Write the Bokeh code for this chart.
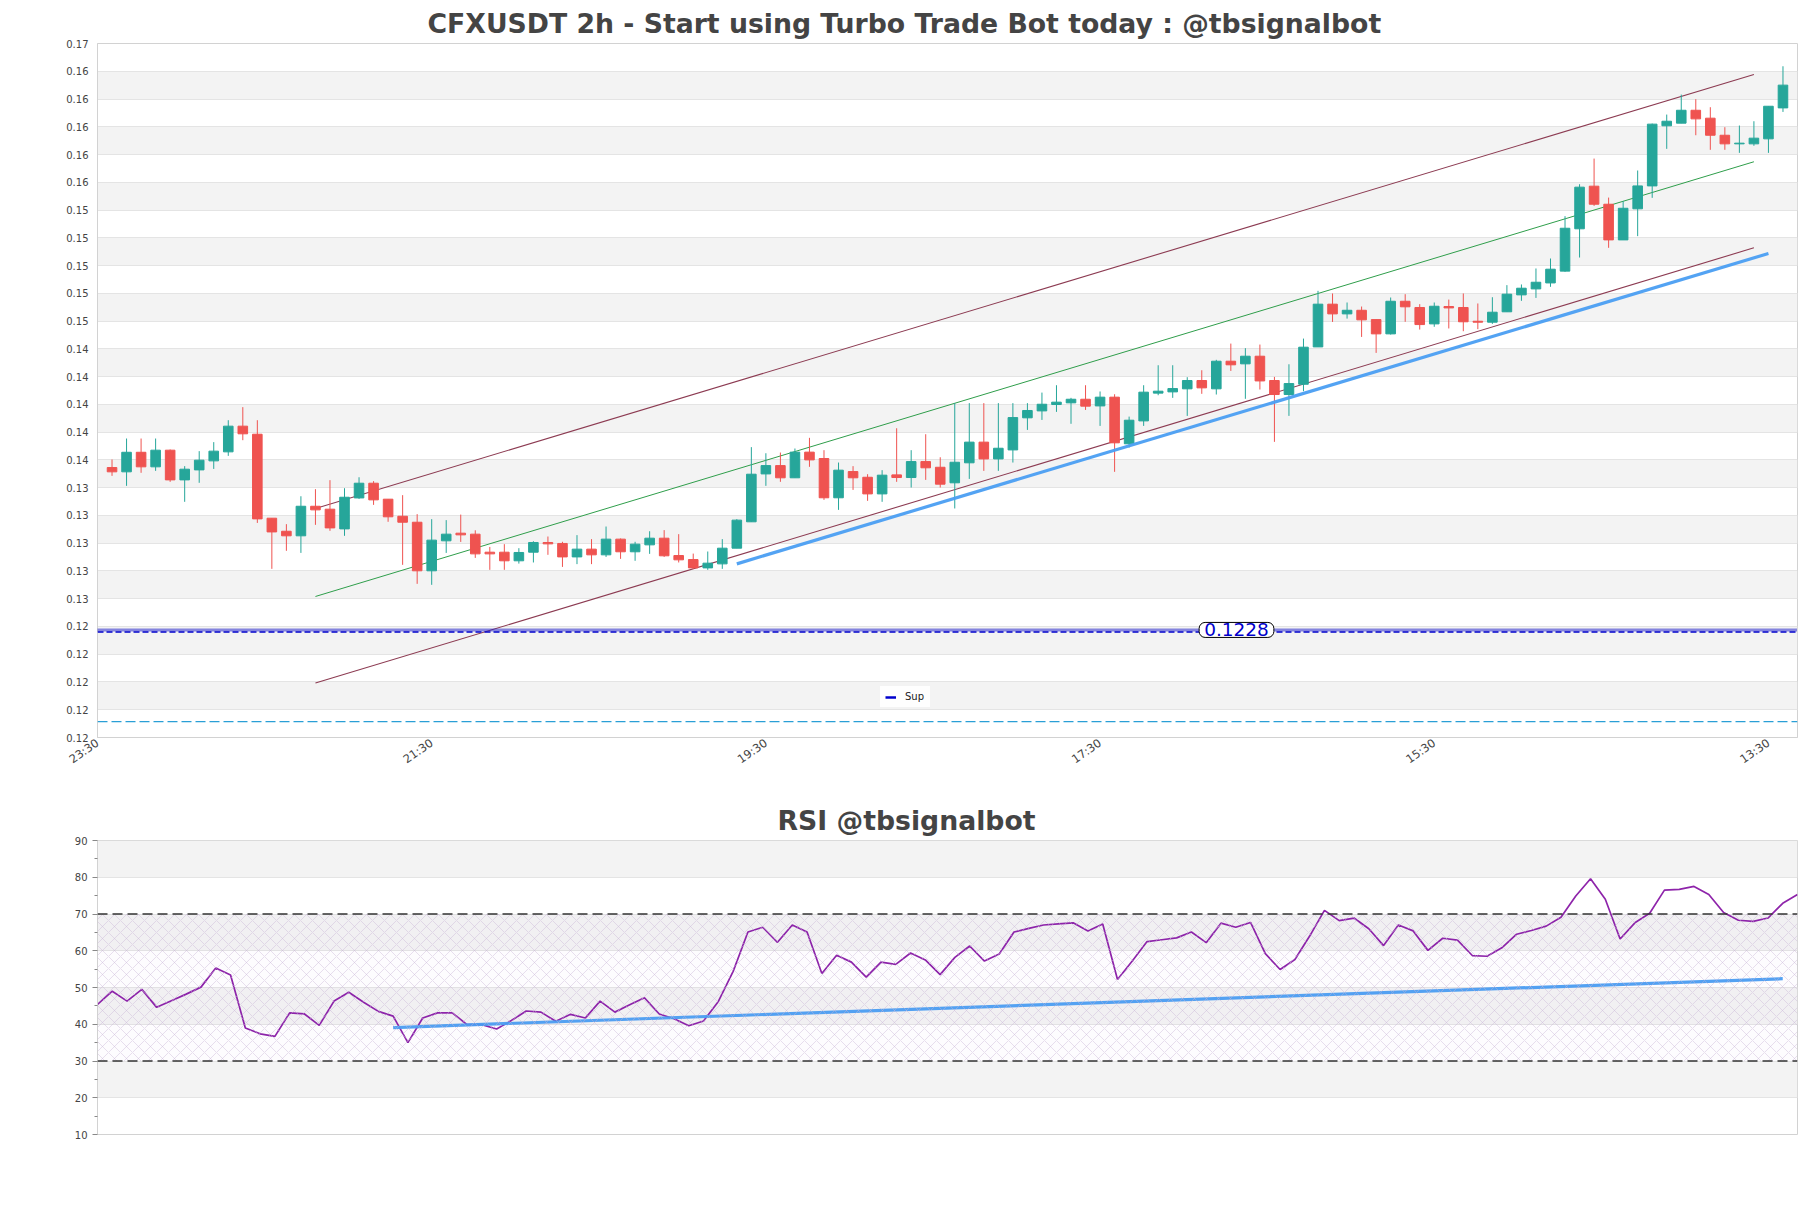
import math
from bokeh.plotting import figure
from bokeh.models import (Range1d, FixedTicker, PrintfTickFormatter, Span, Label,
                          Legend, LegendItem, BoxAnnotation, ColumnDataSource, Title)
from bokeh.layouts import column
from bokeh.embed import file_html
from bokeh.resources import INLINE

# ---------------- data ----------------
title_main = "CFXUSDT 2h - Start using Turbo Trade Bot today : @tbsignalbot"
title_rsi = "RSI @tbsignalbot"

opens = [
    .13465, .13434, .13575, .13470, .13590, .13376, .13448, .13513, .13578, .13763,
    .13705, .13100, .13006, .12973, .13186, .13165, .13023, .13246, .13352, .13237,
    .13114, .13071, .12721, .12937, .12992, .12985, .12855, .12855, .12793, .12855,
    .12925, .12918, .12821, .12877, .12836, .12949, .12858, .12908, .12956, .12831,
    .12802, .12742, .12771, .12884, .13074, .13419, .13479, .13391, .13576, .13530,
    .13247, .13436, .13395, .13275, .13412, .13393, .13508, .13467, .13355, .13499,
    .13648, .13527, .13592, .13823, .13873, .13919, .13931, .13957, .13909, .13972,
    .13636, .13801, .14001, .14010, .14032, .14092, .14032, .14231, .14212, .14267,
    .14092, .13991, .14065, .14334, .14642, .14572, .14598, .14531, .14428, .14663,
    .14618, .14500, .14625, .14618, .14519, .14512, .14587, .14709, .14752, .14795,
    .14880, .15185, .15492, .15362, .15105, .15329, .15494, .15927, .15946, .16039,
    .15982, .15859, .15797, .15797, .15833, .16056]
highs = [
    .13523, .13674, .13674, .13674, .13595, .13475, .13583, .13648, .13806, .13900,
    .13806, .13100, .13057, .13258, .13309, .13374, .13316, .13395, .13367, .13237,
    .13266, .13129, .13093, .13086, .13126, .13013, .12893, .12913, .12884, .12934,
    .12968, .12930, .12978, .12949, .13040, .12954, .12930, .13006, .13014, .12985,
    .12845, .12860, .12949, .13093, .13612, .13568, .13573, .13602, .13679, .13590,
    .13501, .13475, .13417, .13446, .13748, .13590, .13705, .13539, .13929, .13929,
    .13929, .13929, .13929, .13929, .14005, .14058, .13967, .14058, .14013, .13993,
    .13832, .14058, .14202, .14202, .14116, .14166, .14241, .14358, .14325, .14351,
    .14118, .14209, .14394, .14738, .14719, .14654, .14625, .14531, .14690, .14714,
    .14642, .14654, .14675, .14719, .14647, .14692, .14779, .14784, .14899, .14971,
    .15276, .15506, .15691, .15410, .15384, .15605, .15943, .16008, .16152, .16119,
    .16061, .15917, .15929, .15960, .16068, .16356]
lows = [
    .13405, .13333, .13427, .13441, .13362, .13218, .13355, .13455, .13549, .13662,
    .13066, .12735, .12865, .12850, .13052, .13009, .12973, .13239, .13196, .13074,
    .12764, .12627, .12620, .12850, .12929, .12814, .12728, .12728, .12773, .12781,
    .12836, .12749, .12769, .12769, .12821, .12807, .12793, .12843, .12821, .12781,
    .12735, .12728, .12735, .12884, .13074, .13333, .13362, .13391, .13470, .13232,
    .13160, .13304, .13225, .13218, .13362, .13321, .13376, .13321, .13170, .13383,
    .13441, .13441, .13501, .13736, .13808, .13866, .13780, .13880, .13765, .13434,
    .13609, .13765, .13986, .13967, .13837, .13996, .13991, .14161, .13960, .14027,
    .13650, .13837, .14015, .14334, .14514, .14538, .14406, .14291, .14423, .14515,
    .14459, .14479, .14467, .14447, .14462, .14500, .14587, .14666, .14687, .14767,
    .14875, .14978, .15350, .15048, .15105, .15132, .15408, .15761, .15946, .15859,
    .15754, .15754, .15732, .15783, .15732, .16027]
closes = [
    .13434, .13575, .13470, .13590, .13376, .13453, .13518, .13583, .13763, .13708,
    .13095, .13001, .12973, .13186, .13160, .13030, .13251, .13352, .13232, .13110,
    .13071, .12721, .12942, .12985, .12980, .12843, .12843, .12793, .12853, .12925,
    .12915, .12821, .12877, .12836, .12949, .12858, .12913, .12956, .12829, .12800,
    .12742, .12776, .12884, .13086, .13417, .13479, .13391, .13576, .13520, .13247,
    .13446, .13391, .13275, .13410, .13393, .13508, .13463, .13345, .13503, .13648,
    .13527, .13604, .13825, .13876, .13921, .13936, .13957, .13907, .13972, .13643,
    .13806, .14008, .14015, .14034, .14092, .14039, .14231, .14205, .14267, .14089,
    .13991, .14070, .14332, .14642, .14572, .14598, .14529, .14428, .14663, .14623,
    .14495, .14627, .14615, .14515, .14512, .14584, .14714, .14757, .14800, .14894,
    .15189, .15485, .15362, .15105, .15333, .15494, .15939, .15960, .16039, .15977,
    .15859, .15797, .15802, .15838, .16068, .16220]

rsi = [
    45.4, 49.0, 46.3, 49.5, 44.6, 46.4, 48.2, 50.1, 55.3, 53.4,
    39.0, 37.4, 36.7, 43.1, 42.8, 39.7, 46.3, 48.7, 46.0, 43.5,
    42.2, 35.0, 41.7, 43.1, 43.1, 39.9, 39.9, 38.7, 41.0, 43.6,
    43.3, 40.8, 42.7, 41.7, 46.3, 43.3, 45.3, 47.2, 42.8, 41.5,
    39.6, 40.9, 46.2, 54.4, 65.1, 66.4, 62.3, 67.0, 65.1, 53.8,
    58.8, 56.9, 52.8, 56.9, 56.3, 59.4, 57.5, 53.5, 58.2, 61.3,
    57.2, 59.1, 65.1, 66.1, 67.0, 67.3, 67.6, 65.4, 67.3, 52.2,
    57.2, 62.5, 63.0, 63.5, 65.1, 62.2, 67.5, 66.4, 67.7, 59.2,
    54.9, 57.6, 64.0, 71.0, 68.2, 68.9, 66.0, 61.4, 67.0, 65.4,
    60.1, 63.4, 62.9, 58.7, 58.5, 60.8, 64.5, 65.5, 66.7, 69.1,
    74.9, 79.6, 74.0, 63.2, 67.6, 70.2, 76.5, 76.7, 77.5, 75.3,
    70.4, 68.3, 68.0, 68.9, 72.9, 75.3]

# x tick labels (candle index -> time)
xtick_idx = [-1, 22, 45, 68, 91, 114]
xtick_labels = ["23:30", "21:30", "19:30", "17:30", "15:30", "13:30"]

# price axis ticks
y_ticks = [round(0.1152 + 0.002 * k, 4) for k in range(26)]

# channel lines
ch_x = [14, 113]
ch_upper = [0.13170, 0.16297]
ch_mid = [0.12536, 0.15668]
ch_lower = [0.11912, 0.15048]
# support trend line
sup_x = [43, 114]
sup_y = [0.12771, 0.15007]

# horizontal levels
sup_level = 0.1228
sup_zone = 0.12295
low_level = 0.11635
sup_text = "0.1228"

# RSI
rsi_ticks = [10, 20, 30, 40, 50, 60, 70, 80, 90]
rsi_minor = [15, 25, 35, 45, 55, 65, 75, 85]
rsi_hi, rsi_lo = 70, 30
rsi_trend_x = [20, 114]
rsi_trend_y = [39.1, 52.4]

# ---------------- styling ----------------
GREEN = "#26a69a"
RED = "#ef5350"
FONT = "DejaVu Sans"
W = 1803
GRID = "#e4e4e4"
BAND = "#f3f3f3"
AXIS = "#d2d2d2"
TXT = "#444444"
TITLE_PX = 26.7

idx = list(range(len(opens)))
up = [c >= o for o, c in zip(opens, closes)]
src = ColumnDataSource(dict(
    x=idx, h=highs, l=lows,
    top=[max(o, c) for o, c in zip(opens, closes)],
    bot=[min(o, c) for o, c in zip(opens, closes)],
    color=[GREEN if u else RED for u in up],
))


def centered_title(text, em_width, frame_left, page_center):
    # left-aligned title positioned so that it is centred on the page
    width = em_width * TITLE_PX
    return Title(text=text, align="left", offset=page_center - frame_left - width / 2,
                 text_font=FONT, text_font_size=f"{TITLE_PX}px", text_font_style="bold",
                 text_color=TXT, standoff=10)


p = figure(width=W, height=788, x_range=Range1d(-1, len(opens)),
           y_range=Range1d(y_ticks[0], y_ticks[-1]),
           output_backend="svg", toolbar_location=None,
           min_border_left=97, min_border_right=6, min_border_top=43, min_border_bottom=51)
p.title = centered_title(title_main, 35.84, 97, 905.5)
p.background_fill_color = "white"
p.border_fill_color = "white"
p.outline_line_color = AXIS

yt = FixedTicker(ticks=y_ticks, minor_ticks=[])
p.yaxis.ticker = yt
p.ygrid.ticker = yt
p.yaxis.formatter = PrintfTickFormatter(format="%.2f")
p.ygrid.grid_line_color = GRID
p.ygrid.band_fill_color = BAND
p.ygrid.band_fill_alpha = 1.0
p.xgrid.visible = False
p.yaxis.major_tick_out = 0
p.yaxis.major_tick_in = 0
p.yaxis.minor_tick_line_color = None
p.yaxis.major_label_standoff = 9
p.yaxis.axis_line_color = AXIS
p.yaxis.major_label_text_font_size = "10px"
p.yaxis.major_label_text_color = TXT
p.yaxis.major_label_text_font = FONT

p.xaxis.ticker = FixedTicker(ticks=xtick_idx, minor_ticks=[])
p.xaxis.major_label_overrides = {t: s for t, s in zip(xtick_idx, xtick_labels)}
p.xaxis.major_label_orientation = math.radians(35)
p.xaxis.major_tick_out = 0
p.xaxis.major_tick_in = 0
p.xaxis.minor_tick_line_color = None
p.xaxis.major_label_standoff = 4
p.xaxis.axis_line_color = AXIS
p.xaxis.major_label_text_font_size = "11.5px"
p.xaxis.major_label_text_color = TXT
p.xaxis.major_label_text_font = FONT

# levels
p.add_layout(Span(location=low_level, dimension="width", line_color="#2a9fd6",
                  line_width=1.3, line_dash="10 4"))
p.add_layout(Span(location=sup_zone, dimension="width", line_color="#1414c8",
                  line_width=3.0, line_dash="1 1"))
p.add_layout(Span(location=sup_level, dimension="width", line_color="#0000cc",
                  line_width=1.4, line_dash="6 3"))

# channel + trend
p.line(ch_x, ch_upper, line_color="#8c3b52", line_width=1.1)
p.line(ch_x, ch_mid, line_color="#2f9e4b", line_width=1.0)
p.line(ch_x, ch_lower, line_color="#8c3b52", line_width=1.1)

# candles
p.segment(x0="x", y0="h", x1="x", y1="l", line_color="color", line_width=1, source=src)
p.vbar(x="x", width=0.66, top="top", bottom="bot", fill_color="color",
       line_color="color", line_width=1, source=src)

p.line(sup_x, sup_y, line_color="#4a9ef2", line_width=3.2, line_alpha=0.95)

p.add_layout(Label(x=1139, y=sup_zone, x_units="screen", text=sup_text,
                   text_color="#0000cc", text_font=FONT, text_font_size="18.5px",
                   text_align="center", text_baseline="middle",
                   background_fill_color="white", border_line_color="black",
                   border_line_width=1, border_radius=6, padding=(5, 1)))

# legend proxy: a short line kept outside the visible x-range
legend_x = [x - 10 for x in (0, 1)]
r_sup = p.line(x=legend_x, y=[sup_level, sup_level], line_color="#0000cc", line_width=2.5)
legend = Legend(items=[LegendItem(label="Sup", renderers=[r_sup])], location=(783, 30),
                glyph_width=11, glyph_height=10, label_text_font_size="10px",
                label_text_font=FONT, label_text_color="#222222", label_standoff=9,
                padding=5, margin=0, spacing=0, label_height=10,
                background_fill_color="white", background_fill_alpha=0.85,
                border_line_alpha=0)
p.add_layout(legend)

# ---------------- RSI ----------------
p2 = figure(width=W, height=390, x_range=Range1d(0, len(rsi) - 1),
            y_range=Range1d(rsi_ticks[0], rsi_ticks[-1]),
            output_backend="svg", toolbar_location=None,
            min_border_left=97, min_border_right=6, min_border_top=52, min_border_bottom=44)
p2.title = centered_title(title_rsi, 9.628, 97, 905.5)
p2.background_fill_color = "white"
p2.border_fill_color = "white"
p2.outline_line_color = AXIS
rt = FixedTicker(ticks=rsi_ticks, minor_ticks=rsi_minor)
p2.yaxis.ticker = rt
p2.ygrid.ticker = rt
p2.ygrid.grid_line_color = GRID
p2.ygrid.band_fill_color = BAND
p2.ygrid.band_fill_alpha = 1.0
p2.xgrid.visible = False
p2.xaxis.visible = False
p2.yaxis.major_tick_out = 5
p2.yaxis.major_tick_in = 0
p2.yaxis.minor_tick_out = 3
p2.yaxis.minor_tick_in = 0
p2.yaxis.major_tick_line_color = "#888888"
p2.yaxis.minor_tick_line_color = "#888888"
p2.yaxis.major_label_standoff = 5
p2.yaxis.axis_line_color = AXIS
p2.yaxis.major_label_text_font_size = "10px"
p2.yaxis.major_label_text_color = TXT
p2.yaxis.major_label_text_font = FONT

p2.add_layout(BoxAnnotation(bottom=rsi_lo, top=rsi_hi, fill_color="#9c27b0", fill_alpha=0.015,
                            line_alpha=0, hatch_pattern="x", hatch_color="#c8b4d6",
                            hatch_alpha=0.7, hatch_scale=12, hatch_weight=0.6))
p2.add_layout(Span(location=rsi_hi, dimension="width", line_color="#333333",
                   line_width=1.3, line_dash="10 5"))
p2.add_layout(Span(location=rsi_lo, dimension="width", line_color="#333333",
                   line_width=1.3, line_dash="10 5"))
p2.line(list(range(len(rsi))), rsi, line_color="#8e24aa", line_width=1.7)
p2.line(rsi_trend_x, rsi_trend_y, line_color="#4a9ef2", line_width=3.2, line_alpha=0.95)

layout = column(p, p2)
open("out.html", "w").write(file_html(layout, INLINE))
